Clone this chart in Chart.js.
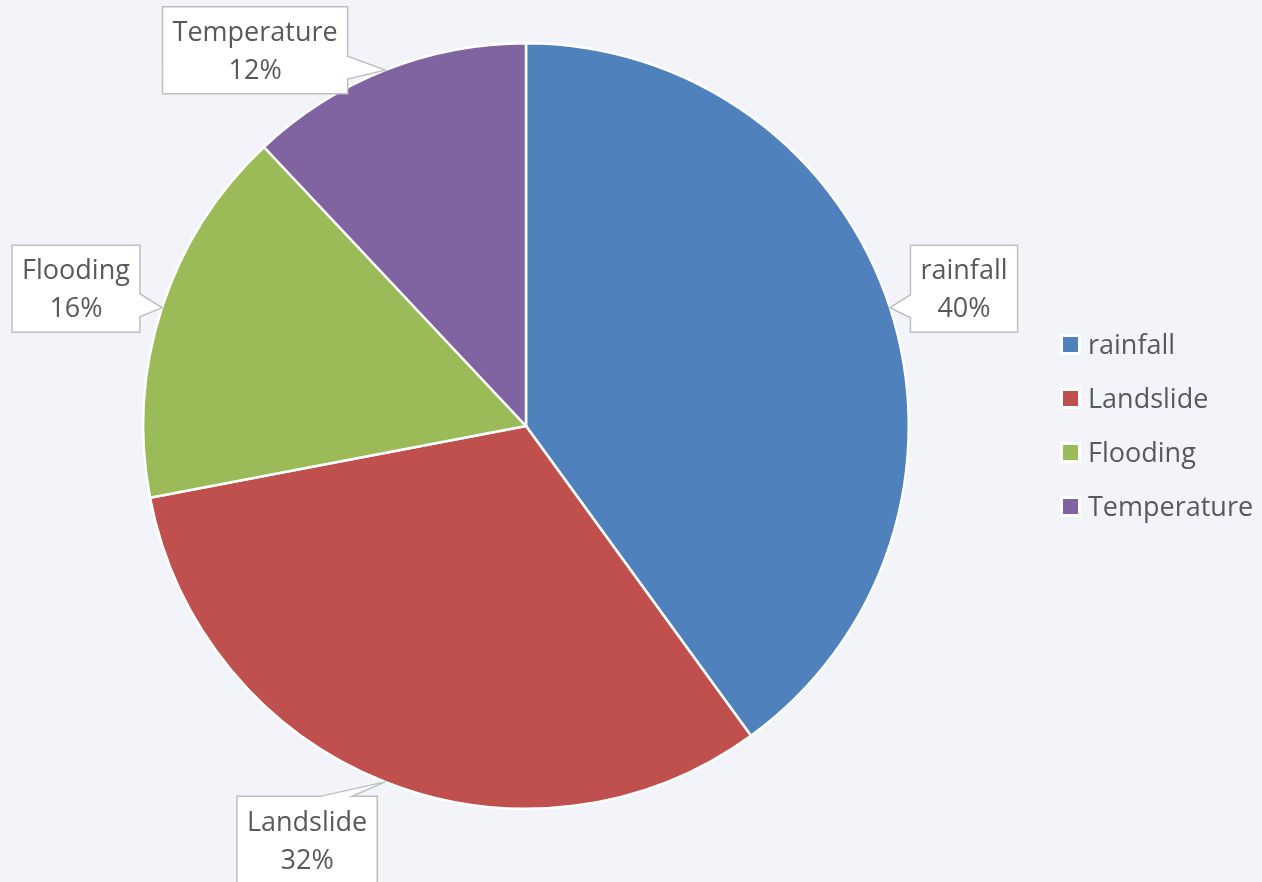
<!DOCTYPE html>
<html>
<head>
<meta charset="utf-8">
<script src="https://cdn.jsdelivr.net/npm/chart.js@4/dist/chart.umd.min.js"></script>
<style>
  html, body { margin: 0; padding: 0; background: #f3f4f9; }
  #wrap { width: 1262px; height: 882px; }
</style>
</head>
<body>
<div id="wrap"><canvas id="pieChart" width="1262" height="882"></canvas></div>
<script>
const categories = ["rainfall", "Landslide", "Flooding", "Temperature"];
const shares = [40, 32, 16, 12];
const sliceColors = ["#4f81bd", "#c0504d", "#9bbb59", "#8064a2"];

// where each callout box sits, relative to the point on the rim
const calloutOffsets = [
  { dx: 74, dy: -19, side: "left" },
  { dx: -78, dy: 58, side: "top" },
  { dx: -86, dy: -19, side: "right" },
  { dx: -130, dy: -20, side: "right" },
];

const FONT = "'Open Sans', Lato, sans-serif";
const TEXT_COLOR = "#595959";
const FONT_SIZE = 27;

const calloutPlugin = {
  id: "callouts",
  afterDatasetsDraw(chart) {
    const ctx = chart.ctx;
    const arcs = chart.getDatasetMeta(0).data;
    const total = shares.reduce((a, b) => a + b, 0);
    ctx.save();
    ctx.font = FONT_SIZE + "px " + FONT;
    arcs.forEach((arc, i) => {
      const mid = (arc.startAngle + arc.endAngle) / 2;
      const tipX = arc.x + Math.cos(mid) * arc.outerRadius;
      const tipY = arc.y + Math.sin(mid) * arc.outerRadius;
      const line1 = chart.data.labels[i];
      const line2 = Math.round(shares[i] / total * 100) + "%";
      const w = Math.max(ctx.measureText(line1).width, ctx.measureText(line2).width) + 20;
      const h = 87;
      const off = calloutOffsets[i];
      const cx = tipX + off.dx, cy = tipY + off.dy;
      const l = cx - w / 2, r = cx + w / 2, t = cy - h / 2, b = cy + h / 2;

      ctx.beginPath();
      ctx.moveTo(l, t);
      if (off.side === "top") {
        ctx.lineTo(cx + 13, t);
        ctx.lineTo(tipX, tipY);
        ctx.lineTo(cx + 45, t);
      }
      ctx.lineTo(r, t);
      if (off.side === "right") {
        const py = tipY - 2;
        ctx.lineTo(r, py - 12);
        ctx.lineTo(tipX, tipY);
        ctx.lineTo(r, py + 11);
      }
      ctx.lineTo(r, b);
      ctx.lineTo(l, b);
      if (off.side === "left") {
        const py = tipY - 1;
        ctx.lineTo(l, py + 11);
        ctx.lineTo(tipX, tipY);
        ctx.lineTo(l, py - 12);
      }
      ctx.closePath();
      ctx.fillStyle = "#ffffff";
      ctx.fill();
      ctx.lineWidth = 1.5;
      ctx.strokeStyle = "#bfbfbf";
      ctx.stroke();

      ctx.fillStyle = TEXT_COLOR;
      ctx.textAlign = "center";
      ctx.textBaseline = "middle";
      ctx.fillText(line1, cx, cy - 17);
      ctx.fillText(line2, cx, cy + 21);
    });
    ctx.restore();
  },
};

const legendPlugin = {
  id: "sideLegend",
  afterDraw(chart) {
    const ctx = chart.ctx;
    const x0 = 1060, y0 = 345, step = 54;
    ctx.save();
    ctx.font = FONT_SIZE + "px " + FONT;
    ctx.textBaseline = "middle";
    ctx.textAlign = "left";
    chart.data.labels.forEach((lab, i) => {
      const y = y0 + i * step;
      ctx.fillStyle = "#ffffff";
      ctx.fillRect(x0, y - 11, 21, 21);
      ctx.fillStyle = sliceColors[i];
      ctx.fillRect(x0 + 3, y - 8, 15, 15);
      ctx.fillStyle = TEXT_COLOR;
      ctx.fillText(lab, x0 + 28, y + 1);
    });
    ctx.restore();
  },
};

new Chart(document.getElementById("pieChart"), {
  type: "pie",
  data: {
    labels: categories,
    datasets: [{
      data: shares,
      backgroundColor: sliceColors,
      borderColor: "#ffffff",
      borderWidth: 2.5,
    }],
  },
  options: {
    responsive: false,
    animation: false,
    layout: { padding: { left: 142, right: 352, top: 42, bottom: 72 } },
    plugins: {
      legend: { display: false },
      tooltip: { enabled: false },
    },
  },
  plugins: [calloutPlugin, legendPlugin],
});
</script>
</body>
</html>
